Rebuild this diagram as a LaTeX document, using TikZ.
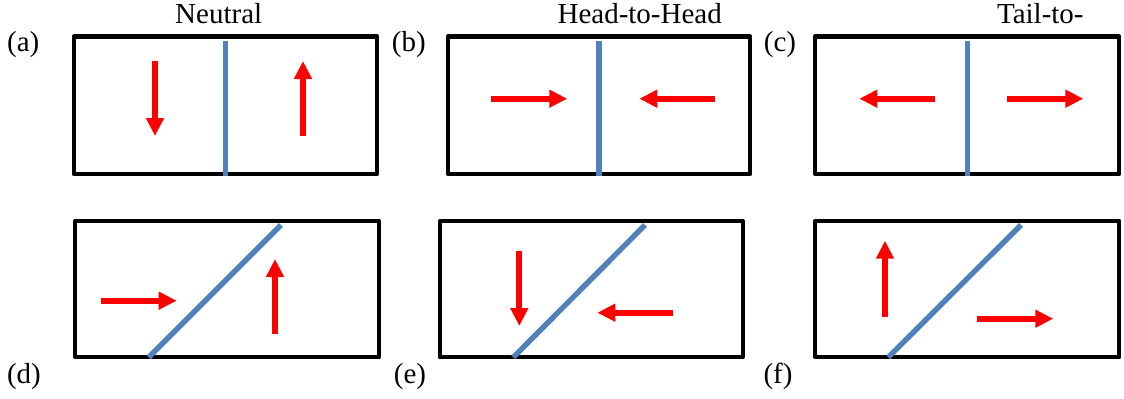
\documentclass[tikz,border=0pt]{standalone}
\usepackage{fontspec}
\setmainfont{Liberation Serif}
\usetikzlibrary{arrows.meta}
\definecolor{wallblue}{RGB}{79,129,189}
\definecolor{polred}{RGB}{255,0,0}
\begin{document}
\begin{tikzpicture}[x=0.5pt,y=-0.5pt,
  panel/.style={draw=black,line width=2.15pt,line join=round},
  wall/.style={draw=wallblue,line width=2.7pt},
  pol/.style={draw=polred,line width=2.85pt,-{Triangle[width=8.5pt,length=9pt]}},
  lbl/.style={font=\fontsize{14.5}{17}\selectfont,anchor=base,inner sep=0pt}]
\useasboundingbox (0,0) rectangle (1124,398);
% titles
\node[lbl] (tN) at (218.7,23.3) {Neutral};
\node[lbl] (tH) at (639.7,23.3) {Head-to-Head};
\node[lbl] (tT) at (1040.3,23.3) {Tail-to-};
% panel labels
\node[lbl] (la) at (23.3,51) {(a)};
\node[lbl] (lb) at (408.8,51) {(b)};
\node[lbl] (lc) at (780,51) {(c)};
\node[lbl] (ld) at (24,383.3) {(d)};
\node[lbl] (le) at (410,383.3) {(e)};
\node[lbl] (lf) at (778,383.3) {(f)};
% (a)
\draw[panel] (73.7,36.5) rectangle (377,174);
\draw[wall] (225.3,40.7) -- (225.3,176);
\draw[pol] (155,60.7) -- (155,136);
\draw[pol] (303,136) -- (303,61);
% (b)
\draw[panel] (447.7,36.5) rectangle (750.3,174);
\draw[wall] (599,40.7) -- (599,176);
\draw[pol] (491,98.7) -- (567.3,98.7);
\draw[pol] (715,98.7) -- (639.3,98.7);
% (c)
\draw[panel] (815.3,36.5) rectangle (1119.3,174);
\draw[wall] (967.3,40.7) -- (967.3,176);
\draw[pol] (935,98.7) -- (859.3,98.7);
\draw[pol] (1007.3,98.7) -- (1083.3,98.7);
% (d)
\draw[panel] (75.3,221) rectangle (379,357.3);
\draw[wall] (148.7,357.3) -- (281,225);
\draw[pol] (100.7,300.7) -- (176.7,300.7);
\draw[pol] (275,334.3) -- (275,259);
% (e)
\draw[panel] (439.7,221) rectangle (742.7,357.3);
\draw[wall] (513.3,357.3) -- (645,225);
\draw[pol] (519.3,250.7) -- (519.3,326);
\draw[pol] (672.7,312.7) -- (597.3,312.7);
% (f)
\draw[panel] (815.3,221) rectangle (1119.3,357.3);
\draw[wall] (888.3,357.3) -- (1021,225);
\draw[pol] (885,316.7) -- (885,240.7);
\draw[pol] (976.7,318.7) -- (1053.3,318.7);
\end{tikzpicture}
\end{document}
